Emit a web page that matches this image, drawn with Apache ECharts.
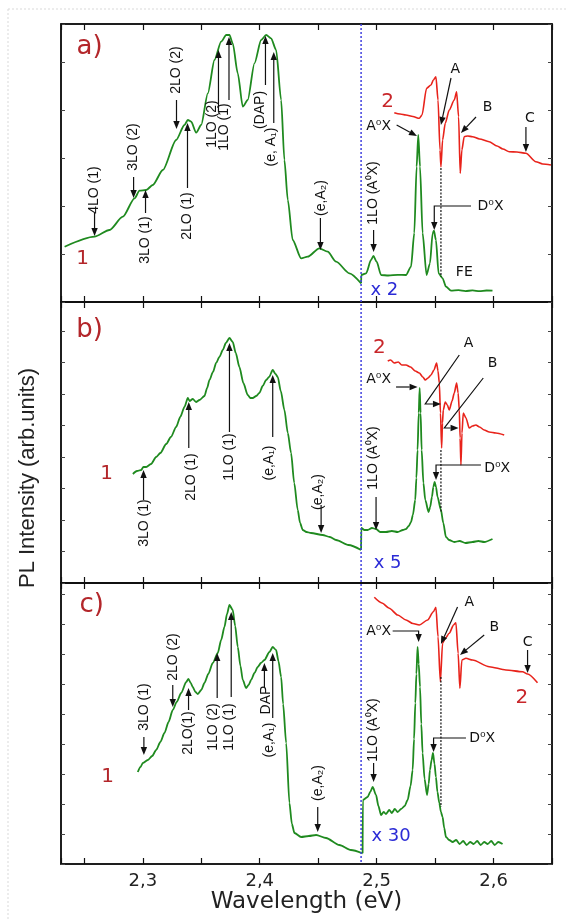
<!DOCTYPE html>
<html><head><meta charset="utf-8">
<script src="https://cdn.jsdelivr.net/npm/echarts@6/dist/echarts.min.js"></script>
<style>html,body{margin:0;padding:0;background:#fff;}#c{width:568px;height:921px;}</style>
</head><body><div id="c"></div>
<script>
// ---------- axis ----------
const xMin = 2.23, xMax = 2.65;
const xTickLabels = ['2,3', '2,4', '2,5', '2,6'];
const panelNames = ['a)', 'b)', 'c)'];
const scaleFactors = ['x 2', 'x 5', 'x 30'];
const yMax = [278, 281, 281];
const jumpEnergy = 2.4867;

// ---------- panel a ----------
const a_green_left = [[2.2331,55.3],[2.2587,65.3],[2.2715,72],[2.2829,85.3],[2.2929,103.7],[2.2972,111.3],[2.3029,112],[2.3085,117],[2.3171,132],[2.3285,162],[2.3356,177],[2.3385,182],[2.3414,180.3],[2.3456,169.3],[2.3499,177],[2.3556,208.7],[2.3613,242],[2.367,260.3],[2.3713,267],[2.3741,267],[2.3769,258.7],[2.3812,228.7],[2.3855,195.3],[2.3897,202],[2.3955,238.7],[2.4012,262],[2.4055,267],[2.4097,263.7],[2.414,252],[2.4183,202],[2.4211,142],[2.424,102],[2.4282,62],[2.4354,43.7],[2.441,45.3],[2.451,53.7],[2.4581,50.3],[2.4653,40.3],[2.4767,28.7],[2.4867,18.7]];
const a_green_right = [[2.4867,18.7],[2.4869,27],[2.491,28.7],[2.4952,42],[2.4972,46],[2.5,40.3],[2.5038,27],[2.51,26.5],[2.518,27.2],[2.5251,27],[2.5294,35.3],[2.5322,69],[2.5342,135.3],[2.5356,167],[2.5371,135.3],[2.5393,69],[2.5427,27],[2.5456,38.7],[2.5479,68.7],[2.549,71.3],[2.5507,62],[2.553,28.7],[2.5564,23.7],[2.5593,15.3],[2.5636,11.3],[2.57,11.8],[2.576,10.9],[2.582,11.6],[2.588,10.8],[2.594,11.5],[2.5991,11.3]];
const a_red = [[2.5151,189.3],[2.52,188],[2.5251,187],[2.531,185.5],[2.5365,183.7],[2.5388,187],[2.5427,213.7],[2.5465,217],[2.5485,222],[2.5507,225.3],[2.5525,202],[2.5542,152],[2.555,135.3],[2.5564,162],[2.5587,178.7],[2.5621,192],[2.5664,202],[2.5684,210.3],[2.5701,185.3],[2.5715,128.7],[2.5729,152],[2.5749,165.3],[2.578,166],[2.582,165.3],[2.588,163],[2.5962,160.3],[2.603,156],[2.608,153],[2.6134,150.3],[2.62,150],[2.6277,148.7],[2.6362,140.3],[2.642,138],[2.6491,137]];

// ---------- panel b ----------
const b_green_left = [[2.2915,109],[2.295,112],[2.2986,113],[2.3005,116],[2.3029,116],[2.307,119],[2.3114,126],[2.315,130],[2.32,139],[2.324,146],[2.3285,156],[2.332,166],[2.3356,176],[2.3385,185],[2.34,182],[2.3427,184],[2.3455,181],[2.3485,183],[2.3527,187],[2.355,195],[2.357,203],[2.36,211],[2.3627,220],[2.3655,226],[2.3684,233],[2.371,240],[2.3741,245],[2.3769,241],[2.3795,230],[2.3826,216],[2.386,200],[2.3897,188],[2.392,185],[2.394,185],[2.397,187],[2.3997,190],[2.4025,197],[2.4055,203],[2.408,206],[2.4111,213],[2.4135,209],[2.4154,206],[2.418,192],[2.4211,173],[2.424,150],[2.4268,130],[2.4295,100],[2.4325,73],[2.4345,60],[2.4368,53],[2.44,51],[2.4439,50],[2.4538,48],[2.46,46],[2.4653,43],[2.476,38],[2.4867,33]];
const b_green_right = [[2.4867,33],[2.4869,55],[2.4895,53],[2.4923,53],[2.496,55],[2.4995,54],[2.503,51],[2.508,51],[2.513,52],[2.518,51],[2.5225,53],[2.5251,54],[2.5275,57],[2.5294,61],[2.531,68],[2.533,83],[2.534,105],[2.535,133],[2.536,170],[2.5368,195],[2.5376,170],[2.5385,133],[2.54,100],[2.5416,83],[2.5444,71],[2.5458,76],[2.5473,86],[2.5485,96],[2.5496,101],[2.5508,96],[2.5521,86],[2.555,73],[2.557,60],[2.5593,46],[2.562,43],[2.5664,41],[2.571,42],[2.576,40],[2.582,41],[2.587,42],[2.592,41],[2.5991,44]];
const b_red = [[2.5095,222],[2.512,223],[2.515,220],[2.5185,221],[2.5215,218],[2.5251,218],[2.529,216],[2.533,212],[2.5365,210],[2.5395,206],[2.5416,203],[2.544,205],[2.5465,208],[2.549,213],[2.5513,220],[2.5525,212],[2.5536,200],[2.5546,170],[2.5556,135],[2.5563,160],[2.557,173],[2.5587,181],[2.5605,178],[2.5621,173],[2.5645,182],[2.5664,190],[2.5684,200],[2.5697,190],[2.5707,173],[2.5714,145],[2.5721,118],[2.573,150],[2.5741,170],[2.5764,165],[2.5792,155],[2.582,157],[2.5849,158],[2.588,156],[2.592,153],[2.5963,151],[2.602,150],[2.6091,148]];

// ---------- panel c ----------
const c_green_left = [[2.2957,92],[2.298,97],[2.3,101],[2.3043,104],[2.308,108],[2.3114,114],[2.315,122],[2.3185,131],[2.322,142],[2.3256,154],[2.329,162],[2.3328,171],[2.3371,182],[2.339,185],[2.341,181],[2.3427,177],[2.345,172],[2.347,170],[2.35,174],[2.3527,181],[2.356,190],[2.3598,201],[2.3641,211],[2.367,224],[2.3698,237],[2.372,250],[2.3741,259],[2.3769,254],[2.379,238],[2.3812,217],[2.3835,198],[2.3855,184],[2.3883,176],[2.3905,179],[2.3926,184],[2.3955,191],[2.3983,197],[2.401,201],[2.404,204],[2.4083,212],[2.4111,217],[2.414,214],[2.416,203],[2.4183,187],[2.42,160],[2.4226,121],[2.4254,61],[2.4275,40],[2.4297,31],[2.4354,27],[2.442,28],[2.4482,29],[2.4567,26],[2.4681,19],[2.478,14],[2.488,10.7]];
const c_green_right = [[2.488,10.7],[2.4882,64],[2.4923,67],[2.4945,72],[2.4966,77],[2.4995,69],[2.5015,58],[2.5038,49],[2.506,52],[2.508,50],[2.5108,54],[2.513,51],[2.5155,55],[2.518,52],[2.5209,55],[2.524,58],[2.5265,64],[2.529,78],[2.5308,94],[2.532,125],[2.5331,161],[2.534,190],[2.535,217],[2.536,200],[2.5371,177],[2.5382,140],[2.5393,111],[2.541,85],[2.5431,69],[2.5445,80],[2.5456,94],[2.547,104],[2.5482,111],[2.5495,100],[2.5507,87],[2.552,72],[2.5536,61],[2.555,52],[2.5564,47],[2.5578,36],[2.5593,27],[2.562,24],[2.565,22],[2.568,24],[2.571,20],[2.574,23],[2.577,19],[2.58,22],[2.583,20],[2.586,23],[2.589,19],[2.592,22],[2.595,20],[2.598,23],[2.601,19],[2.604,22],[2.6077,20]];
const c_red = [[2.498,266.7],[2.5045,261],[2.5108,255.7],[2.518,249],[2.5251,244],[2.531,240.5],[2.5365,239],[2.5436,244],[2.5485,252.3],[2.5507,256.7],[2.5525,227.3],[2.5545,182.3],[2.5564,220.7],[2.5587,225.7],[2.5621,230.7],[2.5658,239],[2.5678,241.3],[2.5697,210.7],[2.5712,175.7],[2.5729,204],[2.5764,205.7],[2.582,204],[2.5963,197.3],[2.6106,194],[2.6248,192.3],[2.6291,190],[2.6376,181.3]];

// ---------- annotations (data coordinates of each panel) ----------
const vLabels = [
  [["4LO (1)",2.2587,112],["3LO (2)",2.2921,155],["3LO (1)",2.3023,62],["2LO (2)",2.3288,232],["2LO (1)",2.3382,86],["1LO (2)",2.3596,178],["1LO (1)",2.3698,175],["(DAP)",2.4006,192],["(e, A\u2081)",2.4097,155],["(e,A\u2082)",2.4525,104],["1LO (A\u2070X)",2.4966,109]],
  [["3LO (1)",2.3015,60],["2LO (1)",2.3414,106],["1LO (1)",2.3741,126],["(e,A\u2081)",2.4083,120],["(e,A\u2082)",2.4496,91],["1LO (A\u2070X)",2.4966,125]],
  [["3LO (1)",2.3015,157],["2LO (2)",2.3256,207],["2LO(1)",2.3385,131],["1LO (2)",2.3598,137],["1LO (1)",2.3741,137],["DAP",2.4055,164],["(e,A\u2081)",2.4083,124],["(e,A\u2082)",2.4496,81],["1LO (A\u2070X)",2.4966,134]]
];
const hLabels = [
  [["A\u2070X",2.5017,176,"center"],["A",2.5673,233,"center"],["B",2.5949,195,"center"],["C",2.6311,184,"center"],["D\u2070X",2.5863,96,"left"],["FE",2.575,30,"center"]],
  [["A\u2070X",2.5017,204,"center"],["A",2.5786,240,"center"],["B",2.5991,220,"center"],["D\u2070X",2.592,115,"left"]],
  [["A\u2070X",2.5017,233,"center"],["A",2.5792,262,"center"],["B",2.6006,237,"center"],["C",2.6291,222,"center"],["D\u2070X",2.5792,126,"left"]]
];
const arrows = [
  [[[2.2587,89],[2.2587,66]],[[2.2921,125],[2.2921,104]],[[2.3023,89],[2.3023,112]],[[2.3288,202],[2.3288,173]],[[2.3382,114],[2.3382,179]],[[2.3647,190],[2.3647,252]],[[2.3737,202],[2.3737,265]],[[2.4049,217],[2.4049,266]],[[2.412,179],[2.412,250]],[[2.4519,84],[2.4519,52]],[[2.4974,72],[2.4974,50]],[[2.5171,177],[2.5345,166]],[[2.5636,224],[2.555,177]],[[2.585,185],[2.5721,169]],[[2.6277,175],[2.6277,150]],[[2.5807,96],[2.5493,96],[2.5493,72]]],
  [[[2.3006,83],[2.3006,113]],[[2.3393,135],[2.3393,181]],[[2.3741,151],[2.3741,240]],[[2.4111,146],[2.4111,208]],[[2.4525,78],[2.4525,50]],[[2.4995,86],[2.4995,53]],[[2.5166,196],[2.535,196]],[[2.5707,228],[2.5416,179],[2.555,179]],[[2.5912,205],[2.5579,155],[2.5701,155]],[[2.5892,118],[2.5508,118],[2.5508,103]]],
  [[[2.3009,127],[2.3009,109]],[[2.3256,179],[2.3256,157]],[[2.3391,154],[2.3391,176]],[[2.3636,166],[2.3636,211]],[[2.3756,167],[2.3756,252]],[[2.404,177],[2.404,201]],[[2.4111,146],[2.4111,211]],[[2.4496,57],[2.4496,32]],[[2.4974,101],[2.4974,82]],[[2.5137,233],[2.5359,233],[2.5359,222]],[[2.5692,257],[2.555,220]],[[2.592,229],[2.5713,209]],[[2.6291,214],[2.6291,191]],[[2.5764,126],[2.5487,126],[2.5487,112]]]
];
const dotted = [[[2.555,134],[2.555,25]],[[2.555,133],[2.555,71]],[[2.555,187],[2.555,57]]];
const tagPos = [
  {name:[2.2544,255], one:[2.2485,43], two:[2.5094,200], fac:[2.5066,12]},
  {name:[2.2544,253], one:[2.269,109], two:[2.5023,235], fac:[2.5094,20]},
  {name:[2.2562,259], one:[2.2698,87], two:[2.6243,166], fac:[2.5123,28]}
];

const GREEN = '#1f8a1f', RED = '#e8231b', DARKRED = '#b3262a', RED2 = '#c8262a', BLUE = '#2b2bd6';
const FONT = '"Liberation Sans", Arial, sans-serif';
const WIDE = '"DejaVu Sans", "Liberation Sans", sans-serif';

const chart = echarts.init(document.getElementById('c'), null, {renderer:'canvas'});
const grids = [], xAxes = [], yAxes = [], series = [];
const tops = [24, 302, 583];
const yIv = [48, 31.5, 30];
for (let i = 0; i < 3; i++) {
  grids.push({left:61, top:tops[i], width:491, height:yMax[i], show:true, borderColor:'#111', borderWidth:1.5, backgroundColor:'transparent'});
  const xBase = {type:'value', gridIndex:i, min:xMin, max:xMax, minInterval:0.05, maxInterval:0.05,
    axisLine:{onZero:false, lineStyle:{color:'#111', width:1.5}}, axisTick:{inside:true, length:6, lineStyle:{color:'#111', width:1.2}},
    splitLine:{show:false}};
  xAxes.push(Object.assign({}, xBase, {position:'bottom',
    axisLabel:{show:i===2, color:'#222', fontSize:18, fontFamily:WIDE, margin:8,
      formatter:v=>{const r=Math.round(v*10); if(Math.abs(v*10-r)>1e-6) return ''; const s=(r/10).toFixed(1).replace('.',','); return xTickLabels.indexOf(s)>=0 ? s : '';}},
    name: i===2 ? 'Wavelength (eV)' : '', nameLocation:'middle', nameGap:24,
    nameTextStyle:{fontSize:23, color:'#222', fontFamily:WIDE}}));
  xAxes.push(Object.assign({}, xBase, {position:'top', axisLabel:{show:false}}));
  const yBase = {type:'value', gridIndex:i, min:0, max:yMax[i], minInterval:yIv[i], maxInterval:yIv[i],
    axisLine:{show:true, onZero:false, lineStyle:{color:'#111', width:1.5}}, axisTick:{show:true, inside:true, length:4, lineStyle:{color:'#444', width:1}},
    axisLabel:{show:false}, splitLine:{show:false}};
  yAxes.push(Object.assign({}, yBase, {position:'left'}));
  yAxes.push(Object.assign({}, yBase, {position:'right'}));
}
const data = [[a_green_left,a_green_right,a_red],[b_green_left,b_green_right,b_red],[c_green_left,c_green_right,c_red]];
data.forEach((d, i) => {
  const common = {type:'line', xAxisIndex:2*i, yAxisIndex:2*i, showSymbol:false, symbol:'none', smooth:0.25, smoothMonotone:'x', animation:false, silent:true};
  series.push(Object.assign({}, common, {data:d[0], lineStyle:{color:GREEN, width:1.8}}));
  series.push(Object.assign({}, common, {data:d[1], lineStyle:{color:GREEN, width:1.8}}));
  series.push(Object.assign({}, common, {data:d[2], lineStyle:{color:RED, width:1.6}}));
});
chart.setOption({backgroundColor:'#fff', animation:false, grid:grids, xAxis:xAxes, yAxis:yAxes, series:series});

function px(i, p) { return chart.convertToPixel({xAxisIndex:2*i, yAxisIndex:2*i}, p); }
const g = [];
g.push({type:'line', shape:{x1:8, y1:9, x2:568, y2:9}, style:{stroke:'#d9d9d9', lineWidth:1, lineDash:[2,2]}, silent:true});
g.push({type:'line', shape:{x1:8, y1:9, x2:8, y2:921}, style:{stroke:'#d9d9d9', lineWidth:1, lineDash:[2,2]}, silent:true});
{
  const p1 = px(0, [jumpEnergy, yMax[0]]), p2 = px(2, [jumpEnergy, 0]);
  g.push({type:'line', z:50, shape:{x1:p1[0], y1:p1[1], x2:p2[0], y2:p2[1]}, style:{stroke:'#4040e0', lineWidth:1.5, lineDash:[2,2]}, silent:true});
}
function addArrow(i, pts) {
  const P = pts.map(p => px(i, p));
  const n = P.length;
  const [x1, y1] = P[n-2], [x2, y2] = P[n-1];
  const a = Math.atan2(y2-y1, x2-x1), L = 8, W = 3.2;
  const bx = x2 - L*Math.cos(a), by = y2 - L*Math.sin(a);
  const nx = -Math.sin(a), ny = Math.cos(a);
  const line = P.slice(0, n-1).concat([[bx, by]]);
  g.push({type:'polyline', z:60, shape:{points:line}, style:{stroke:'#111', lineWidth:1.2, fill:null}, silent:true});
  g.push({type:'polygon', z:60, shape:{points:[[x2,y2],[bx+nx*W,by+ny*W],[bx-nx*W,by-ny*W]]}, style:{fill:'#111', stroke:null}, silent:true});
}
for (let i = 0; i < 3; i++) {
  vLabels[i].forEach(([t, x, y]) => {
    const p = px(i, [x, y]);
    g.push({type:'text', z:60, x:p[0], y:p[1], rotation:Math.PI/2, style:{text:t, fill:'#111', font:'14px ' + FONT, align:'center', verticalAlign:'middle'}, silent:true});
  });
  hLabels[i].forEach(([t, x, y, al]) => {
    const p = px(i, [x, y]);
    g.push({type:'text', z:60, x:p[0], y:p[1], style:{text:t, fill:'#111', font:'14px ' + WIDE, align:al, verticalAlign:'middle'}, silent:true});
  });
  arrows[i].forEach(pts => addArrow(i, pts));
  {
    const p1 = px(i, dotted[i][0]), p2 = px(i, dotted[i][1]);
    g.push({type:'line', z:55, shape:{x1:p1[0], y1:p1[1], x2:p2[0], y2:p2[1]}, style:{stroke:'#111', lineWidth:1.2, lineDash:[2,1.5]}, silent:true});
  }
  const tp = tagPos[i];
  let p = px(i, tp.name);
  g.push({type:'text', z:60, x:p[0], y:p[1], style:{text:panelNames[i], fill:DARKRED, font:'26px ' + WIDE, align:'center', verticalAlign:'middle'}, silent:true});
  p = px(i, tp.one);
  g.push({type:'text', z:60, x:p[0], y:p[1], style:{text:'1', fill:DARKRED, font:'20px ' + WIDE, align:'center', verticalAlign:'middle'}, silent:true});
  p = px(i, tp.two);
  g.push({type:'text', z:60, x:p[0], y:p[1], style:{text:'2', fill:RED2, font:'20px ' + WIDE, align:'center', verticalAlign:'middle'}, silent:true});
  p = px(i, tp.fac);
  g.push({type:'text', z:60, x:p[0], y:p[1], style:{text:scaleFactors[i], fill:BLUE, font:'18px ' + WIDE, align:'center', verticalAlign:'middle'}, silent:true});
}
g.push({type:'text', z:60, x:28, y:478, rotation:Math.PI/2, style:{text:'PL Intensity (arb.units)', fill:'#222', font:'22px ' + FONT, align:'center', verticalAlign:'middle'}, silent:true});
chart.setOption({graphic:{elements:g}});
</script></body></html>
